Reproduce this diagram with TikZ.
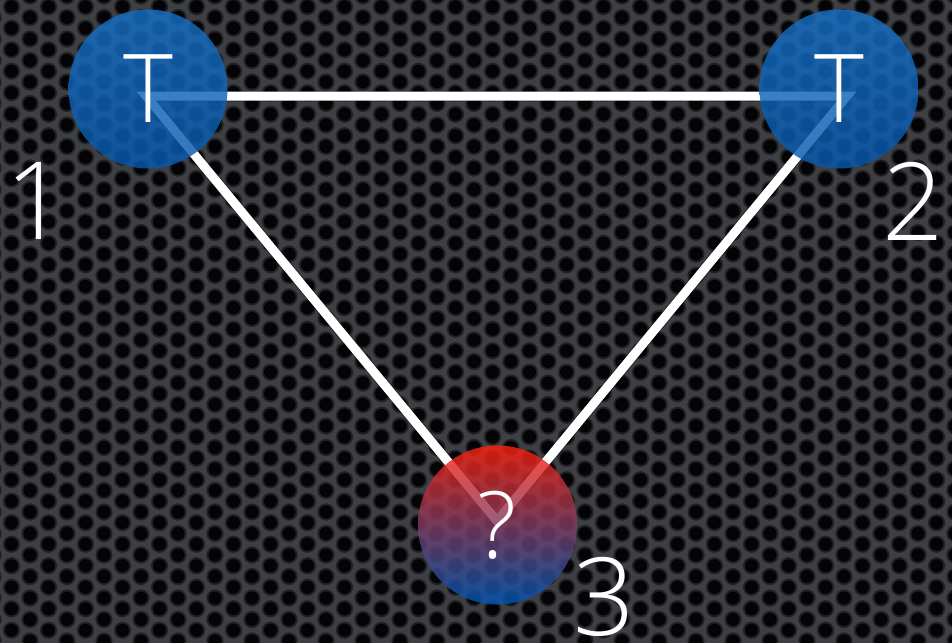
\documentclass[tikz,border=0pt]{standalone}
\usepackage{fontspec}
\setmainfont{Open Sans}[UprightFont=* Light]
\definecolor{bgcol}{RGB}{62,63,67}
\definecolor{halocol}{RGB}{32,33,36}
\definecolor{holecol}{RGB}{4,4,6}
\definecolor{bluetop}{RGB}{22,112,198}
\definecolor{bluebot}{RGB}{8,88,172}
\definecolor{redtop}{RGB}{255,32,12}
\definecolor{purmid}{RGB}{125,60,140}
\definecolor{bluedeep}{RGB}{0,86,182}
\tikzset{
  halo/.style={fill=halocol},
  hole/.style={fill=holecol},
  edgeline/.style={draw=white,line width=9pt,line join=miter},
  edgeshadow/.style={draw=black,opacity=0.35,line width=11pt,line join=miter},
  bluenode/.style={circle,minimum size=159pt,inner sep=0pt,top color=bluetop,bottom color=bluebot,fill opacity=0.82,text opacity=1,text=white,font=\fontsize{95}{95}\selectfont},
  rednode/.style={circle,minimum size=159pt,inner sep=0pt,top color=redtop,middle color=purmid,bottom color=bluedeep,fill opacity=0.82,text opacity=1,text=white,font=\fontsize{93}{93}\selectfont},
  numlabel/.style={text=white,inner sep=0pt,font=\fontsize{108}{108}\selectfont}
}
\begin{document}
\begin{tikzpicture}[x=1pt,y=-1pt]
\useasboundingbox (0,0) rectangle (952,642);
\begin{scope}
\clip (0,0) rectangle (952,642);
\fill[bgcol] (-10,-10) rectangle (962,652);
\foreach \c in {0,...,52}{
  \pgfmathsetmacro\off{mod(\c,2)*10.75}
  \foreach \r in {0,...,31}{
    \fill[halo] (\c*18.5-7,\r*21.5-4+\off) circle[radius=8.6];
    \fill[hole] (\c*18.5-7,\r*21.5-4+\off) circle[radius=6.6];
  }
}
\end{scope}
\coordinate (v1) at (146,96);
\coordinate (v2) at (847,96);
\coordinate (v3) at (497,521);
\draw[edgeshadow,shift={(1.5,3)}] (v1) -- (v2) -- (v3) -- cycle;
\draw[edgeline] (v1) -- (v2) -- (v3) -- cycle;
\node[bluenode] (n1) at (148,89) {T};
\node[bluenode] (n2) at (839,89) {T};
\node[rednode] (n3) at (497.5,525) {?};
\node[numlabel] (l1) at (36,201) {1};
\node[numlabel] (l2) at (913,201) {2};
\node[numlabel] (l3) at (604,597) {3};
\end{tikzpicture}
\end{document}
